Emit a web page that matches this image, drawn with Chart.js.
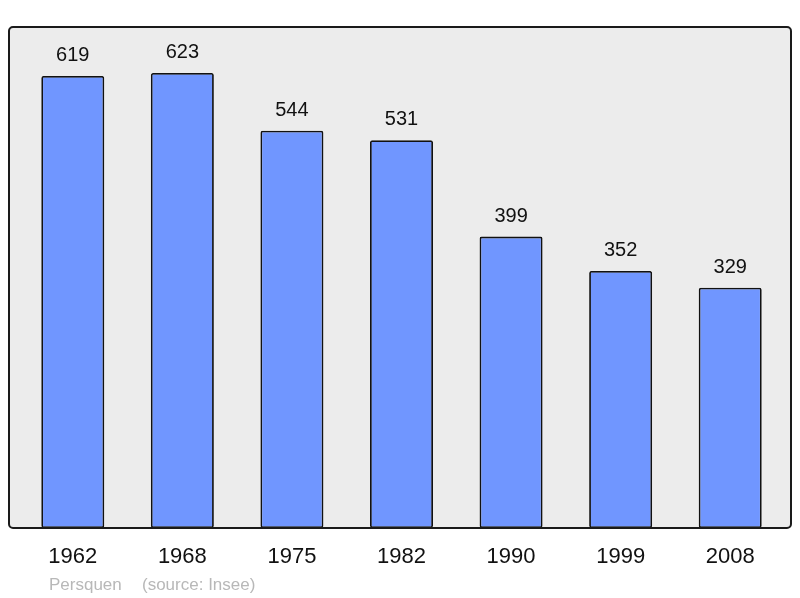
<!DOCTYPE html>
<html>
<head>
<meta charset="utf-8">
<script src="https://cdn.jsdelivr.net/npm/chart.js@4"></script>
<style>
  html, body { margin: 0; padding: 0; background: #fff; }
  #wrap { width: 800px; height: 598px; }
</style>
</head>
<body>
<div id="wrap"><canvas id="grafico"></canvas></div>
<script>
const years = ['1962', '1968', '1975', '1982', '1990', '1999', '2008'];
const population = [619, 623, 544, 531, 399, 352, 329];
const townName = 'Persquen';
const sourceText = '(source: Insee)';

// fond gris + cadre, valeurs au-dessus des barres, pied de page
const decor = {
  id: 'decor',
  beforeDraw(chart) {
    const c = chart.ctx;
    const a = chart.chartArea;
    c.save();
    c.beginPath();
    c.roundRect(9, a.top, 782, a.bottom - a.top, 4);
    c.fillStyle = '#ececec';
    c.fill();
    c.restore();
  },
  afterDatasetsDraw(chart) {
    const c = chart.ctx;
    const a = chart.chartArea;
    c.save();
    c.beginPath();
    c.roundRect(9, a.top, 782, a.bottom - a.top, 4);
    c.lineWidth = 2;
    c.strokeStyle = '#1a1a1a';
    c.stroke();

    c.fillStyle = '#111';
    c.font = '20px "Liberation Sans", Arial, sans-serif';
    c.textAlign = 'center';
    c.textBaseline = 'alphabetic';
    const meta = chart.getDatasetMeta(0);
    meta.data.forEach((bar, i) => {
      c.fillText(String(population[i]), bar.x, bar.y - 15);
    });

    c.fillStyle = '#b8b8b8';
    c.font = '17px "Liberation Sans", Arial, sans-serif';
    c.textAlign = 'left';
    c.fillText(townName, 49, 590);
    c.fillText(sourceText, 142, 590);
    c.restore();
  }
};

const ctx = document.getElementById('grafico').getContext('2d');
new Chart(ctx, {
  type: 'bar',
  data: {
    labels: years,
    datasets: [{
      data: population,
      backgroundColor: '#7096ff',
      borderColor: '#111',
      borderWidth: 1.8,
      borderRadius: 2,
      borderSkipped: false,
      barPercentage: 0.575,
      categoryPercentage: 1
    }]
  },
  options: {
    responsive: true,
    maintainAspectRatio: false,
    animation: false,
    layout: { padding: { left: 18, right: 15, top: 27, bottom: 0 } },
    plugins: {
      legend: { display: false },
      tooltip: { enabled: false }
    },
    scales: {
      x: {
        grid: { display: false, drawTicks: false },
        border: { display: false },
        ticks: {
          color: '#111',
          padding: 16,
          font: { size: 22, family: '"Liberation Sans", Arial, sans-serif' }
        },
        afterFit(scale) { scale.height = 70; }
      },
      y: {
        display: false,
        min: 0,
        max: 686
      }
    }
  },
  plugins: [decor]
});
</script>
</body>
</html>
